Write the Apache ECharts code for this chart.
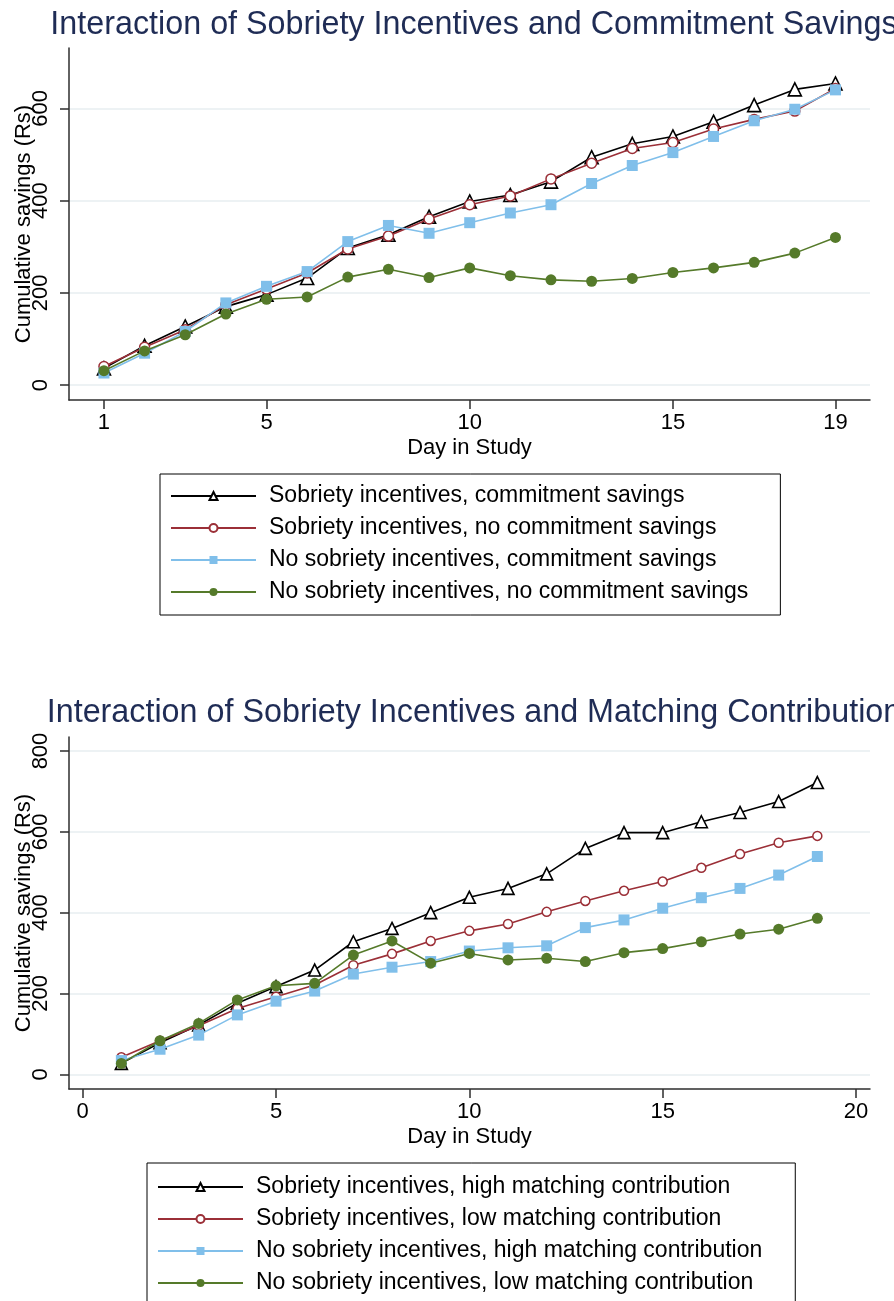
<!DOCTYPE html>
<html>
<head>
<meta charset="utf-8">
<script src="https://cdn.jsdelivr.net/npm/echarts@6/dist/echarts.min.js"></script>
<style>
  html, body { margin: 0; padding: 0; background: #fff; }
  #chart { width: 894px; height: 1301px; }
</style>
</head>
<body>
<div id="chart"></div>
<script>
// Study days shown on both panels
const days = [1, 2, 3, 4, 5, 6, 7, 8, 9, 10, 11, 12, 13, 14, 15, 16, 17, 18, 19];

// Panel 1: sobriety incentives x commitment savings (cumulative savings, Rs)
const commitTitle = 'Interaction of Sobriety Incentives and Commitment Savings';
const commitNames = [
  'Sobriety incentives, commitment savings',
  'Sobriety incentives, no commitment savings',
  'No sobriety incentives, commitment savings',
  'No sobriety incentives, no commitment savings'
];
const incCommit   = [36, 85, 127, 170, 196, 232, 297, 326, 365, 398, 412, 441, 494, 523, 539, 571, 607, 641, 654];
const incNoCommit = [40, 82, 120, 174, 208, 243, 295, 323, 360, 391, 410, 447, 481, 513, 526, 555, 576, 594, 643];
const noIncCommit = [26, 69, 116, 178, 214, 246, 311, 346, 329, 352, 373, 391, 437, 476, 504, 539, 573, 598, 640];
const noIncNoCommit = [31, 74, 109, 154, 186, 191, 234, 251, 233, 254, 237, 228, 225, 231, 244, 254, 266, 286, 320];
const commitXTicks = [1, 5, 10, 15, 19];
const commitYTicks = [0, 200, 400, 600];

// Panel 2: sobriety incentives x matching contribution (cumulative savings, Rs)
const matchTitle = 'Interaction of Sobriety Incentives and Matching Contribution';
const matchNames = [
  'Sobriety incentives, high matching contribution',
  'Sobriety incentives, low matching contribution',
  'No sobriety incentives, high matching contribution',
  'No sobriety incentives, low matching contribution'
];
const incHigh   = [27, 78, 122, 176, 217, 258, 328, 361, 400, 438, 460, 496, 559, 598, 598, 625, 648, 675, 722];
const incLow    = [42, 83, 120, 163, 192, 221, 270, 298, 330, 355, 372, 402, 429, 454, 477, 511, 545, 573, 590];
const noIncHigh = [34, 62, 97, 147, 181, 206, 248, 265, 279, 305, 313, 318, 363, 382, 411, 437, 460, 493, 539];
const noIncLow  = [27, 83, 126, 184, 219, 225, 295, 330, 275, 299, 283, 287, 279, 301, 311, 328, 347, 359, 386];
const matchXTicks = [0, 5, 10, 15, 20];
const matchYTicks = [0, 200, 400, 600, 800];

const xName = 'Day in Study';
const yName = 'Cumulative savings (Rs)';

const FONT = '"Liberation Sans", Arial, Helvetica, sans-serif';
const AXIS_COLOR = '#2e2e2e';
const GRID_COLOR = '#e7eef1';

// Marker / line look for the four groups, in drawing order
const looks = [
  { symbol: 'triangle', size: [13, 12], fill: '#ffffff', stroke: '#000000', border: 1.6 },
  { symbol: 'circle',   size: [10, 9],  fill: '#ffffff', stroke: '#9b2f37', border: 1.5 },
  { symbol: 'rect',     size: [11, 11], fill: '#80bfea', stroke: '#80bfea', border: 0 },
  { symbol: 'circle',   size: [11, 11], fill: '#557a2a', stroke: '#557a2a', border: 0 }
];

function makeSeries(names, values, panel) {
  return values.map((vals, i) => {
    const lk = looks[i];
    return {
      type: 'line',
      name: names[i],
      xAxisIndex: panel,
      yAxisIndex: panel,
      data: days.map((d, k) => [d, vals[k]]),
      symbol: lk.symbol,
      symbolSize: lk.size[panel],
      showAllSymbol: true,
      lineStyle: { color: lk.stroke, width: 1.6 },
      itemStyle: { color: lk.fill, borderColor: lk.stroke, borderWidth: lk.border },
      emphasis: { disabled: true },
      animation: false,
      z: 2 + i
    };
  });
}

function xAxisCfg(panel, min, max, ticks) {
  return {
    type: 'value', gridIndex: panel, min: min, max: max,
    name: xName, nameLocation: 'middle', nameGap: 37, nameMoveOverlap: false,
    nameTextStyle: { fontFamily: FONT, fontSize: 22, color: '#000' },
    axisLine: { show: true, onZero: false, lineStyle: { color: AXIS_COLOR, width: 1.5 } },
    axisTick: { show: true, length: 9, customValues: ticks, lineStyle: { color: AXIS_COLOR, width: 1.5 } },
    axisLabel: { customValues: ticks, margin: 12, fontFamily: FONT, fontSize: 22, color: '#000' },
    splitLine: { show: false }
  };
}

function yAxisCfg(panel, min, max, ticks) {
  return {
    type: 'value', gridIndex: panel, min: min, max: max,
    name: yName, nameLocation: 'middle', nameGap: 34, nameRotate: 90, nameMoveOverlap: false,
    nameTextStyle: { fontFamily: FONT, fontSize: 22, color: '#000' },
    axisLine: { show: true, onZero: false, lineStyle: { color: AXIS_COLOR, width: 1.5 } },
    axisTick: { show: true, length: 9, customValues: ticks, lineStyle: { color: AXIS_COLOR, width: 1.5 } },
    axisLabel: { customValues: ticks, rotate: 90, margin: 17, fontFamily: FONT, fontSize: 22, color: '#000' },
    splitLine: { show: true, lineStyle: { color: GRID_COLOR, width: 1.5 } }
  };
}

function legendCfg(names, left, top, padding) {
  return {
    data: names,
    orient: 'vertical',
    left: left, top: top,
    height: 130,
    padding: padding,
    itemWidth: 85, itemHeight: 10, itemGap: 8,
    borderColor: '#000', borderWidth: 1,
    selectedMode: false,
    textStyle: { fontFamily: FONT, fontSize: 23, color: '#000', lineHeight: 24, padding: [0, 0, 0, 8] }
  };
}

const chart = echarts.init(document.getElementById('chart'), null, { renderer: 'canvas' });
chart.setOption({
  backgroundColor: '#fff',
  animation: false,
  title: [
    { text: commitTitle, left: 469, top: 4, textAlign: 'center',
      textStyle: { fontFamily: FONT, fontSize: 32.3, fontWeight: 'normal', color: '#1f2c55' } },
    { text: matchTitle, left: 469, top: 692, textAlign: 'center',
      textStyle: { fontFamily: FONT, fontSize: 32.3, fontWeight: 'normal', color: '#1f2c55' } }
  ],
  grid: [
    { left: 69, top: 48, width: 801, height: 352, outerBoundsMode: 'none', containLabel: false },
    { left: 69, top: 737, width: 801, height: 352, outerBoundsMode: 'none', containLabel: false }
  ],
  xAxis: [
    xAxisCfg(0, 0.14, 19.85, commitXTicks),
    xAxisCfg(1, -0.354, 20.362, matchXTicks)
  ],
  yAxis: [
    yAxisCfg(0, -32.5, 730.8, commitYTicks),
    yAxisCfg(1, -36.4, 834.7, matchYTicks)
  ],
  legend: [
    legendCfg(commitNames, 160, 474, [10, 32, 11, 10]),
    legendCfg(matchNames, 147, 1163, [12, 33, 12, 10])
  ],
  series: [
    ...makeSeries(commitNames, [incCommit, incNoCommit, noIncCommit, noIncNoCommit], 0),
    ...makeSeries(matchNames, [incHigh, incLow, noIncHigh, noIncLow], 1)
  ]
});
</script>
</body>
</html>
